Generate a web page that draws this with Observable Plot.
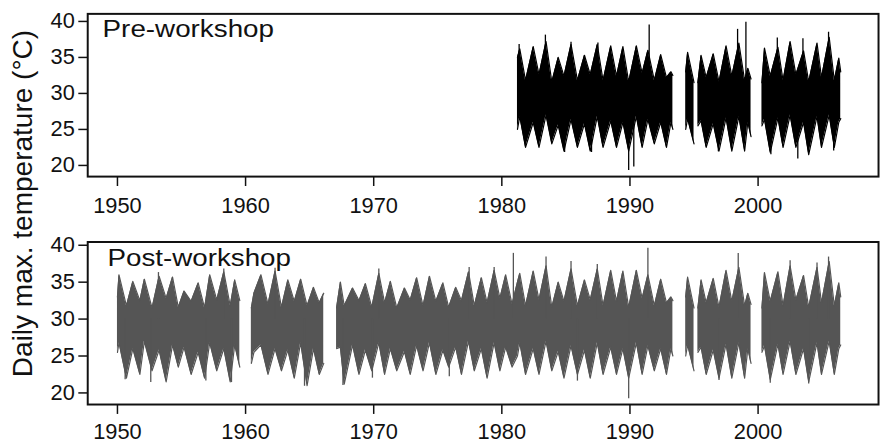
<!DOCTYPE html>
<html><head><meta charset="utf-8">
<script src="https://cdn.jsdelivr.net/npm/d3@7"></script>
<script src="https://cdn.jsdelivr.net/npm/@observablehq/plot@0.6"></script>
<style>
html,body{margin:0;padding:0;background:#fff;overflow:hidden;}
#wrap{position:relative;width:884px;height:445px;overflow:hidden;font-family:"Liberation Sans",Arial,sans-serif;}
#wrap svg{position:absolute;left:0;}
</style></head><body><div id="wrap"></div>
<script>
// Envelope of the daily max. temperature series (°C):
// alternating seasonal peak / trough points, upper (hi) and lower (lo) edge.
const segA_t  = [1950.00,1950.12,1950.70,1951.20,1951.75,1952.10,1952.70,1953.25,1953.80,1954.30,1954.75,1955.20,1955.75,1956.30,1956.80,1957.20,1957.75,1958.30,1958.80,1959.15,1959.55];
const segA_hi = [33.0,36.0,31.8,35.1,32.5,35.4,31.5,35.8,32.8,35.7,31.6,33.8,32.4,34.9,31.5,36.0,32.6,36.4,31.8,35.3,32.5];
const segA_lo = [25.5,26.8,22.0,26.0,22.5,27.0,23.0,25.8,21.5,26.5,23.5,26.2,22.5,25.5,22.0,26.8,23.0,26.0,21.5,26.5,23.5];

const segB_t  = [1960.45,1960.65,1961.20,1961.75,1962.30,1962.80,1963.30,1963.80,1964.30,1964.80,1965.30,1965.75,1966.10];
const segB_hi = [31.5,33.5,36.0,32.0,36.5,31.6,35.3,32.4,35.4,31.8,34.3,32.2,33.5];
const segB_lo = [24.0,25.5,26.5,22.5,26.0,23.0,25.8,22.0,26.8,21.0,26.0,22.5,24.0];

const segC_t  = [1967.10,1967.40,1967.70,1968.35,1968.85,1969.35,1969.85,1970.40,1970.85,1971.30,1971.80,1972.40,1972.85,1973.35,1973.85,1974.35,1974.85,1975.40,1975.85,1976.40,1976.85,1977.40,1977.85,1978.40,1978.85,1979.40,1979.85,1980.30,1980.80,1981.22,1981.40,1981.85,1982.45,1982.90,1983.45,1983.90,1984.40,1984.85,1985.40,1985.90,1986.45,1986.90,1987.45,1987.90,1988.50,1988.95,1989.45,1989.90,1990.50,1990.95,1991.40,1991.90,1992.40,1992.85,1993.20,1993.35];
const segC_hi = [31.5,35.0,31.8,34.2,32.5,34.8,31.6,36.2,32.2,35.1,31.5,34.2,32.6,35.6,31.8,35.8,32.4,34.9,31.6,34.3,32.5,36.4,31.8,35.6,32.2,36.6,32.8,36.0,32.0,35.0,36.2,31.8,36.5,32.6,37.2,31.6,35.0,32.4,36.8,31.8,35.3,32.6,36.8,31.8,36.6,32.4,36.5,31.6,36.6,32.8,36.0,31.8,35.4,32.2,33.0,32.5];
const segC_lo = [26.0,26.2,21.2,26.5,22.5,25.8,23.0,26.8,22.5,26.0,23.0,25.6,22.5,26.4,23.0,26.8,22.5,25.8,23.5,26.2,22.5,27.0,23.0,26.0,22.0,26.8,23.0,26.2,23.5,25.0,26.8,22.5,26.0,22.5,27.0,23.0,25.6,22.0,26.4,22.5,25.8,22.0,26.8,22.5,26.2,22.5,26.0,22.0,26.8,22.5,26.4,23.0,26.0,22.5,26.0,25.0];

const segD_t  = [1994.35,1994.50,1995.00];
const segD_hi = [33.0,35.7,31.5];
const segD_lo = [25.0,26.5,23.0];

const segE_t  = [1995.30,1995.55,1995.95,1996.50,1996.95,1997.50,1997.95,1998.50,1998.95,1999.20,1999.45];
const segE_hi = [31.5,35.3,32.2,35.5,31.6,36.6,32.4,37.0,31.8,33.5,32.0];
const segE_lo = [25.5,26.2,22.5,25.8,22.0,26.6,22.0,26.8,22.0,26.0,24.0];

const segF_t  = [2000.30,2000.50,2000.95,2001.55,2001.95,2002.50,2002.95,2003.55,2003.95,2004.60,2004.95,2005.55,2005.95,2006.30,2006.45];
const segF_hi = [31.5,36.3,32.4,36.4,31.8,37.2,32.6,35.9,31.6,37.0,32.2,37.8,31.8,34.9,33.0];
const segF_lo = [25.5,26.4,21.8,26.6,22.5,27.0,22.5,26.0,21.5,26.8,22.5,27.0,22.5,26.0,26.5];

// Single-day extremes sticking out of the band
const postSpikeT = [1950.6,1952.6,1953.2,1956.9,1958.3,1958.9,1962.3,1964.6,1967.6,1969.9,1970.4,1975.9,1977.45,1979.4,1980.9,1983.45,1985.4,1985.9,1987.45,1989.9,1991.4,1996.95,1998.45,2000.95,2002.5,2003.95,2004.6,2005.5];
const postSpikeV = [21.8,21.4,36.3,21.6,36.8,21.4,36.9,20.9,21.0,22.0,36.8,22.2,37.0,37.0,38.9,38.4,37.8,21.6,37.4,19.2,39.6,21.7,38.9,21.3,37.9,21.2,37.6,38.4];
const preSpikeT  = [1981.35,1983.4,1984.9,1985.4,1987.0,1987.5,1989.9,1990.3,1991.5,1996.9,1998.4,1999.05,2001.0,2001.5,2003.1,2003.5,2005.5,2005.9];
const preSpikeV  = [36.8,38.1,21.8,37.1,21.8,37.0,19.3,19.8,39.5,21.9,38.9,39.9,21.5,37.7,20.9,37.6,38.5,22.0];

const preStart = 1981.2;          // pre-workshop record begins here
const xTicks = [1950,1960,1970,1980,1990,2000];
const yTicks = [20,25,30,35,40];
const panelTitles = ["Pre-workshop","Post-workshop"];
const yTitle = "Daily max. temperature (°C)";

// ---- build tables
const segs = [[segA_t,segA_hi,segA_lo],[segB_t,segB_hi,segB_lo],[segC_t,segC_hi,segC_lo],
              [segD_t,segD_hi,segD_lo],[segE_t,segE_hi,segE_lo],[segF_t,segF_hi,segF_lo]];
const rows = [];
segs.forEach(([t,h,l],k)=>t.forEach((d,i)=>rows.push({t:d,hi:h[i],lo:l[i],seg:k})));
const preRows = rows.filter(d=>d.t>=preStart);
const postSpikes = postSpikeT.map((t,i)=>({t,v:postSpikeV[i]}));
const preSpikes = preSpikeT.map((t,i)=>({t,v:preSpikeV[i]}));

const FONT = "Liberation Sans, Arial, sans-serif";
function panel({data, spikes, color, height, mt, mb, ydom, title, titleDx, titleDy, titleLen, tickPad}) {
  const svg = Plot.plot({
    width: 892, height,
    marginLeft: 88, marginRight: 6, marginTop: mt, marginBottom: mb,
    style: {fontFamily: FONT, fontSize: "22px", color: "#111", background: "transparent", overflow: "visible"},
    x: {domain: [1947.68, 2009.40]},
    y: {domain: ydom},
    marks: [
      Plot.areaY(data, {x: "t", y1: "lo", y2: "hi", z: "seg", fill: color, curve: "linear"}),
      Plot.lineY(data, {x: "t", y: "hi", z: "seg", stroke: color, strokeWidth: 1.2}),
      Plot.lineY(data, {x: "t", y: "lo", z: "seg", stroke: color, strokeWidth: 1.2}),
      Plot.ruleX(spikes, {x: "t", y1: 30, y2: "v", stroke: color, strokeWidth: 1.3}),
      Plot.axisX({ticks: xTicks, tickFormat: d => String(d), tickSize: 10, tickPadding: tickPad, strokeWidth: 1.5, label: null, fontSize: 22}),
      Plot.axisY({ticks: yTicks, tickSize: 9, tickPadding: 4, strokeWidth: 1.5, label: null, fontSize: 22}),
      Plot.frame({stroke: "#111", strokeWidth: 2}),
      Plot.text([title], {frameAnchor: "top-left", dx: titleDx, dy: titleDy, textAnchor: "start", lineAnchor: "top", fontSize: 23.5, fill: "#111"})
    ]
  });
  const tt = svg.querySelector('g[aria-label="text"] text');
  if (tt) { tt.setAttribute("textLength", titleLen); tt.setAttribute("lengthAdjust", "spacingAndGlyphs"); }
  return svg;
}

const wrap = document.getElementById("wrap");
const p1 = panel({data: preRows, spikes: preSpikes, color: "#000", height: 220, mt: 13.5, mb: 42.3,
  ydom: [18.45, 41.05], title: panelTitles[0], titleDx: 15, titleDy: 7, titleLen: 173, tickPad: 11});
p1.style.top = "0px";
const p2 = panel({data: rows, spikes: postSpikes, color: "#555", height: 225, mt: 21.7, mb: 39.3,
  ydom: [18.43, 40.44], title: panelTitles[1], titleDx: 20, titleDy: 8, titleLen: 185, tickPad: 9});
p2.style.top = "220px";
wrap.appendChild(p1);
wrap.appendChild(p2);

// shared y-axis title
const ov = d3.create("svg").attr("width", 60).attr("height", 445).style("top", "0px");
ov.append("text")
  .attr("transform", "translate(31.5,203.5) rotate(-90)")
  .attr("text-anchor", "middle")
  .attr("font-family", FONT).attr("font-size", 28).attr("fill", "#111")
  .text(yTitle);
wrap.appendChild(ov.node());
</script>
</body></html>
